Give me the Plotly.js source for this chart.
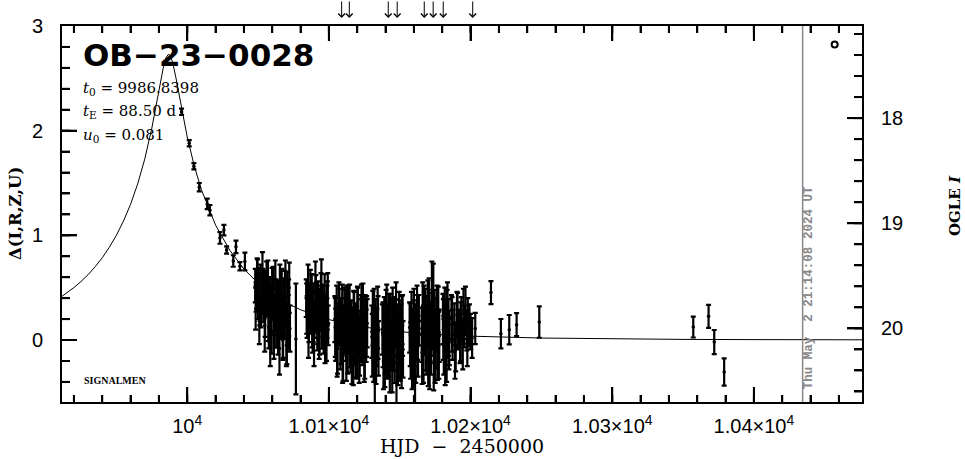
<!DOCTYPE html>
<html><head><meta charset="utf-8">
<script src="https://cdn.plot.ly/plotly-3.0.1.min.js"></script>
<style>html,body{margin:0;padding:0;background:#fff}#chart{width:965px;height:459px}</style>
</head><body><div id="chart"></div>
<script>
// ---------- data ----------
const obsHJD = [
  9996.0, 10001.4, 10004.7, 10008.5, 10014.1, 10016.0, 10023.1, 10025.9, 10027.8, 10032.5, 10034.4, 10037.2, 10040.7,
  10048.0, 10048.6, 10049.3, 10049.9, 10050.5, 10051.2, 10051.8, 10052.4, 10053.1, 10053.7, 10054.4, 10055.0, 10055.7,
  10056.3, 10057.0, 10057.6, 10058.3, 10058.9, 10059.6, 10060.2, 10060.9, 10061.5, 10062.2, 10062.8, 10063.5, 10064.1,
  10064.8, 10065.4, 10066.1, 10066.7, 10067.4, 10068.0, 10068.7, 10069.3, 10070.0, 10070.6, 10071.3, 10072.0, 10072.5,
  10076.7,
  10084.0, 10084.6, 10085.3, 10085.9, 10086.6, 10087.2, 10087.9, 10088.5, 10089.2, 10089.8, 10090.5, 10091.1, 10091.8,
  10092.4, 10093.1, 10093.7, 10094.4, 10095.0, 10095.7, 10096.3, 10097.0, 10097.6, 10098.3, 10098.9, 10099.5,
  10104.2, 10104.8, 10105.5, 10106.1, 10106.8, 10107.4, 10108.1, 10108.7, 10109.4, 10110.0, 10110.7, 10111.3, 10112.0,
  10112.6, 10113.3, 10113.9, 10114.6, 10115.2, 10115.9, 10116.5, 10117.2, 10117.8, 10118.5, 10119.1, 10119.8, 10120.4,
  10121.1, 10121.7, 10122.4, 10123.0, 10123.7, 10124.3, 10125.0, 10125.6, 10126.3, 10127.0,
  10130.3, 10131.0, 10131.6, 10132.4, 10133.0, 10133.7, 10134.4, 10135.0, 10137.8, 10138.5, 10139.1, 10139.8, 10140.4,
  10141.1, 10141.7, 10142.4, 10143.0, 10143.7, 10144.3, 10145.0, 10145.6, 10146.3, 10147.0, 10147.7, 10148.3, 10149.0,
  10149.6, 10150.3, 10150.9, 10151.6, 10152.3,
  10157.0, 10157.7, 10158.3, 10159.0, 10159.6, 10160.3, 10160.8, 10161.6, 10162.2, 10162.9, 10163.5, 10165.5, 10166.2,
  10166.8, 10167.5, 10168.1, 10168.8, 10169.4, 10170.1, 10170.7, 10171.4, 10172.0, 10172.7, 10173.3, 10174.0, 10174.6,
  10175.3, 10175.9, 10176.6, 10177.2, 10177.9, 10180.5, 10181.1, 10181.8, 10182.4, 10183.1, 10183.7, 10184.4, 10185.0,
  10186.5, 10187.3, 10188.6, 10189.5, 10190.4, 10191.2, 10192.6, 10193.5, 10194.5, 10195.5, 10196.4, 10197.3, 10198.0,
  10200.0, 10201.1, 10203.3,
  10214.4, 10221.4, 10227.3, 10232.5, 10248.5, 10357.2, 10368.0, 10372.0, 10379.0
];
const obsDelta = [
  2.18, 1.88, 1.66, 1.46, 1.30, 1.24, 0.975, 1.05, 0.86, 0.755, 0.89, 0.705, 0.75,
  0.52, 0.41, 0.60, 0.35, 0.48, 0.27, 0.55, 0.44, 0.62, 0.33, 0.50, 0.21, 0.46,
  0.38, 0.57, 0.12, 0.43, 0.30, 0.05, 0.36, 0.49, 0.24, 0.58, 0.15, 0.40, 0.06,
  0.31, 0.52, 0.19, 0.45, 0.00, 0.37, 0.26, 0.55, -0.05, 0.42, 0.17, 0.50, 0.11,
  0.01,
  0.40, 0.22, 0.51, 0.15, 0.35, 0.28, 0.45, 0.08, 0.31, 0.19, 0.55, 0.26, 0.12,
  0.38, 0.03, 0.29, 0.47, 0.16, 0.34, 0.09, 0.42, 0.23, 0.00, 0.33, 0.14,
  0.20, 0.05, 0.31, -0.08, 0.15, 0.26, -0.02, 0.18, 0.33, -0.15, 0.10, 0.22, 0.01,
  0.28, -0.10, 0.12, 0.30, -0.04, 0.17, 0.07, -0.20, 0.24, 0.02, 0.14, -0.12, 0.27,
  0.06, -0.06, 0.19, 0.32, -0.01, 0.11, -0.16, 0.21, 0.04, 0.16,
  0.08, 0.25, -0.12, -0.18, 0.15, 0.02, 0.30, -0.08, 0.10, -0.20, 0.18, -0.02, 0.26,
  -0.11, 0.06, 0.21, -0.25, 0.13, -0.05, 0.28, 0.00, -0.15, 0.16, -0.22, 0.09, -0.07,
  0.22, -0.13, 0.04, 0.19, -0.09,
  0.12, -0.10, 0.24, 0.02, -0.20, 0.15, -0.25, 0.08, 0.30, -0.06, 0.19, 0.05, 0.33,
  -0.14, 0.11, 0.26, -0.03, 0.18, -0.18, 0.35, 0.07, -0.08, 0.48, 0.14, -0.22, 0.23,
  0.01, 0.16, -0.11, 0.29, 0.04, 0.20, -0.05, 0.27, 0.09, -0.15, 0.31, 0.12, -0.02,
  0.22, 0.05, 0.15, -0.07, 0.24, 0.10, 0.03, 0.20, -0.04, 0.13, 0.28, 0.09, 0.18,
  0.08, 0.02, 0.11,
  0.453, 0.061, 0.099, 0.147, 0.172, 0.124, 0.226, -0.019, -0.306
];
const obsErr = [
  0.03, 0.03, 0.03, 0.04, 0.05, 0.05, 0.055, 0.05, 0.035, 0.055, 0.06, 0.04, 0.085,
  0.16, 0.14, 0.18, 0.15, 0.21, 0.13, 0.17, 0.19, 0.22, 0.16, 0.14, 0.18, 0.20,
  0.15, 0.19, 0.20, 0.17, 0.22, 0.18, 0.16, 0.21, 0.19, 0.18, 0.22, 0.17, 0.20,
  0.24, 0.20, 0.18, 0.23, 0.19, 0.22, 0.25, 0.21, 0.20, 0.23, 0.26, 0.24, 0.22,
  0.53,
  0.18, 0.20, 0.21, 0.17, 0.19, 0.22, 0.18, 0.20, 0.23, 0.17, 0.20, 0.19, 0.22,
  0.18, 0.21, 0.20, 0.17, 0.24, 0.19, 0.22, 0.21, 0.18, 0.20, 0.23, 0.19,
  0.22, 0.25, 0.21, 0.24, 0.20, 0.23, 0.26, 0.22, 0.20, 0.24, 0.23, 0.26, 0.21,
  0.24, 0.22, 0.25, 0.23, 0.27, 0.21, 0.24, 0.23, 0.22, 0.26, 0.21, 0.25, 0.23,
  0.22, 0.28, 0.24, 0.21, 0.23, 0.26, 0.24, 0.22, 0.25, 0.23,
  0.25, 0.22, 0.28, 0.44, 0.24, 0.27, 0.21, 0.26, 0.24, 0.27, 0.23, 0.30, 0.22,
  0.26, 0.28, 0.23, 0.25, 0.27, 0.24, 0.22, 0.29, 0.26, 0.23, 0.42, 0.25, 0.28,
  0.24, 0.26, 0.30, 0.23, 0.27,
  0.24, 0.27, 0.22, 0.28, 0.25, 0.23, 0.40, 0.26, 0.22, 0.29, 0.24, 0.26, 0.22,
  0.27, 0.25, 0.23, 0.30, 0.24, 0.26, 0.24, 0.27, 0.25, 0.27, 0.23, 0.26, 0.25,
  0.28, 0.24, 0.27, 0.22, 0.25, 0.24, 0.28, 0.23, 0.26, 0.25, 0.24, 0.27, 0.22,
  0.21, 0.24, 0.20, 0.23, 0.22, 0.19, 0.25, 0.21, 0.24, 0.20, 0.23, 0.19, 0.22,
  0.17, 0.19, 0.15,
  0.11, 0.14, 0.14, 0.11, 0.15, 0.10, 0.11, 0.115, 0.13
];
// second, overlapping set of points inside the dense seasons
const obs2HJD = [
  10048.3, 10049.6, 10050.9, 10052.1, 10053.4, 10054.7, 10056.0, 10057.3, 10058.6, 10059.9, 10061.2, 10062.5, 10063.8,
  10065.1, 10066.4, 10067.7, 10069.0, 10070.3, 10071.6,
  10084.3, 10085.6, 10086.9, 10088.2, 10089.5, 10090.8, 10092.1, 10093.4, 10094.7, 10096.0, 10097.3, 10098.6, 10099.2,
  10104.5, 10105.8, 10107.1, 10108.4, 10109.7, 10111.0, 10112.3, 10113.6, 10114.9, 10116.2, 10117.5, 10118.8, 10120.1,
  10121.4, 10122.7, 10124.0, 10125.3, 10126.6,
  10130.6, 10131.9, 10133.3, 10134.7, 10138.2, 10139.5, 10140.8, 10142.1, 10143.4, 10144.7, 10146.0, 10147.4, 10148.7,
  10150.0, 10151.3, 10152.0,
  10157.4, 10158.7, 10160.0, 10161.3, 10162.6, 10165.8, 10167.2, 10168.5, 10169.8, 10171.1, 10172.4, 10173.7, 10175.0,
  10176.3, 10177.6, 10180.8, 10182.1, 10183.4, 10184.7, 10186.9, 10189.0, 10190.8, 10193.0, 10195.0, 10197.7, 10199.2
];
const obs2Delta = [
  0.30, 0.58, 0.18, 0.36, 0.47, 0.14, 0.53, 0.25, -0.02, 0.44, 0.09, 0.34, 0.21,
  -0.08, 0.29, 0.13, 0.40, 0.05, 0.31,
  0.30, 0.05, 0.42, 0.20, -0.02, 0.36, 0.24, 0.11, 0.50, 0.18, 0.06, 0.27, 0.40,
  0.12, -0.05, 0.28, 0.08, -0.12, 0.20, -0.07, 0.24, 0.05, -0.14, 0.17, -0.03, 0.22,
  -0.10, 0.09, 0.26, -0.05, 0.13,
  -0.05, 0.20, -0.10, 0.12, 0.05, -0.15, 0.20, -0.04, 0.15, -0.18, 0.10, 0.25, -0.10,
  0.08, -0.15, 0.14,
  0.05, -0.15, 0.20, -0.08, 0.12, -0.12, 0.20, 0.02, 0.28, -0.15, 0.15, 0.40, -0.10,
  0.22, -0.05, 0.10, -0.12, 0.18, 0.00, 0.15, -0.10, 0.20, 0.08, 0.25, -0.02, 0.14
];
const obs2Err = [
  0.20, 0.19, 0.22, 0.24, 0.21, 0.25, 0.22, 0.26, 0.23, 0.25, 0.27, 0.24, 0.28,
  0.25, 0.27, 0.30, 0.26, 0.28, 0.27,
  0.24, 0.22, 0.25, 0.27, 0.23, 0.26, 0.28, 0.25, 0.27, 0.26, 0.28, 0.25, 0.24,
  0.28, 0.30, 0.27, 0.31, 0.29, 0.30, 0.32, 0.28, 0.31, 0.28, 0.30, 0.33, 0.29,
  0.31, 0.30, 0.28, 0.32, 0.29,
  0.30, 0.29, 0.32, 0.30, 0.31, 0.30, 0.33, 0.31, 0.29, 0.32, 0.31, 0.30, 0.33,
  0.30, 0.31, 0.29,
  0.30, 0.32, 0.29, 0.33, 0.31, 0.30, 0.32, 0.31, 0.29, 0.32, 0.30, 0.33, 0.31,
  0.30, 0.32, 0.29, 0.31, 0.30, 0.28, 0.26, 0.27, 0.25, 0.28, 0.24, 0.23, 0.20
];
// model light curve (Delta mag)
const modelHJD = [9911.6, 9915, 9920, 9925, 9930, 9935, 9940, 9945, 9950, 9955, 9960, 9965, 9970, 9975, 9978,
  9980, 9983, 9985, 9986.84, 9988.5, 9990, 9992, 9995, 10000, 10005, 10010, 10020, 10030, 10040, 10050, 10060,
  10070, 10080, 10100, 10125, 10150, 10175, 10200, 10250, 10300, 10350, 10400, 10476.3];
const modelDelta = [0.418, 0.449, 0.501, 0.559, 0.624, 0.700, 0.786, 0.886, 1.001, 1.137, 1.297, 1.491, 1.728, 2.024, 2.234,
  2.383, 2.595, 2.697, 2.732, 2.703, 2.635, 2.506, 2.284, 1.940, 1.661, 1.436, 1.098, 0.858, 0.679, 0.543, 0.437,
  0.354, 0.289, 0.195, 0.123, 0.080, 0.054, 0.037, 0.019, 0.010, 0.006, 0.004, 0.002];
const arrowHJD = [10109.0, 10114.4, 10141.9, 10148.2, 10167.3, 10173.6, 10180.7, 10201.5];
const circleHJD = [10457];
const circleMag = [17.30];
const nowHJD = 10434.4;
const nowText = 'Thu May \u00a02 21:14:08 2024 UT';
const xTickVals = [10000, 10100, 10200, 10300, 10400];
const xTickText = ['10<sup>4</sup>', '1.01×10<sup>4</sup>', '1.02×10<sup>4</sup>', '1.03×10<sup>4</sup>', '1.04×10<sup>4</sup>'];
const yTickVals = [0, 1, 2, 3];
const magTickVals = [18, 19, 20];
const eventName = 'OB\u221223\u22120028';
const paramLines = ['<i>t</i><sub>0</sub> = 9986.8398', '<i>t</i><sub>E</sub> = 88.50 d', '<i>u</i><sub>0</sub> = 0.081'];

// ---------- traces ----------
const errStyle = {type: 'data', visible: true, color: '#000', thickness: 2.2, width: 2.5};
const traces = [
  {x: modelHJD, y: modelDelta, type: 'scatter', mode: 'lines', line: {color: '#000', width: 1}, hoverinfo: 'skip'},
  {x: obs2HJD, y: obs2Delta, type: 'scatter', mode: 'markers', marker: {color: '#000', size: 3.5},
   error_y: Object.assign({array: obs2Err}, errStyle)},
  {x: obsHJD, y: obsDelta, type: 'scatter', mode: 'markers', marker: {color: '#000', size: 3.5},
   error_y: Object.assign({array: obsErr}, errStyle)},
  {x: circleHJD, y: circleMag, yaxis: 'y2', type: 'scatter', mode: 'markers',
   marker: {symbol: 'circle-open', size: 6, color: '#000', line: {width: 2, color: '#000'}}}
];

const tickFont = {family: 'Liberation Sans', size: 20, color: '#000'};
const minorX = {dtick: 20, tick0: 0, ticks: 'inside', ticklen: 7, tickwidth: 1.5, tickcolor: '#000', showgrid: false};
const minorY = {dtick: 0.2, tick0: 0, ticks: 'inside', ticklen: 8, tickwidth: 1.5, tickcolor: '#000', showgrid: false};

const annotations = [
  {text: eventName, xref: 'paper', yref: 'paper', x: 0.024, y: 0.9229, xanchor: 'left', yanchor: 'middle',
   showarrow: false, font: {family: 'DejaVu Sans', size: 31, color: '#000', weight: 'bold'}},
  {text: 'SIGNALMEN', xref: 'paper', yref: 'paper', x: 0.025, y: 0.0585, xanchor: 'left', yanchor: 'middle',
   showarrow: false, font: {family: 'Liberation Serif', size: 10, color: '#000', weight: 'bold'}},
  {text: nowText, xref: 'x', yref: 'paper', x: nowHJD, xshift: 6, y: 0.3045, xanchor: 'center', yanchor: 'middle',
   textangle: -90, showarrow: false, font: {family: 'Liberation Mono', size: 12.5, color: '#888', weight: 'bold'}},
  {text: 'Δ(I,R,Z,U)', xref: 'paper', yref: 'paper', x: -0.05875, y: 0.5, xanchor: 'center', yanchor: 'middle',
   textangle: -90, showarrow: false, font: {family: 'DejaVu Serif', size: 16.5, color: '#000', weight: 'bold'}},
  {text: 'OGLE <i>I</i>', xref: 'paper', yref: 'paper', x: 1.11625, y: 0.521, xanchor: 'center', yanchor: 'middle',
   textangle: -90, showarrow: false, font: {family: 'DejaVu Serif', size: 15, color: '#000', weight: 'bold'}},
  {text: 'HJD \u00a0\u2212\u00a0 2450000', xref: 'paper', yref: 'paper', x: 0.5, y: -0.117, xanchor: 'center', yanchor: 'middle',
   showarrow: false, font: {family: 'DejaVu Serif', size: 19, color: '#000'}}
];
const paramY = [0.8351, 0.7713, 0.7101];
paramLines.forEach((t, i) => annotations.push({text: t, xref: 'paper', yref: 'paper', x: 0.024, y: paramY[i],
  xanchor: 'left', yanchor: 'middle', showarrow: false, font: {family: 'DejaVu Serif', size: 15, color: '#000'}}));
arrowHJD.forEach(h => annotations.push({x: h, xref: 'x', y: 1.0213, yref: 'paper', text: '', showarrow: true,
  ax: 0, ay: -18, arrowhead: 4, arrowsize: 1.3, arrowwidth: 1, arrowcolor: '#000'}));

const layout = {
  width: 965, height: 459,
  margin: {l: 62, r: 103, t: 26, b: 57, pad: 0},
  paper_bgcolor: '#fff', plot_bgcolor: '#fff', showlegend: false,
  font: {family: 'Liberation Sans', color: '#000'},
  xaxis: {range: [9911.6, 10476.3], tickmode: 'array', tickvals: xTickVals, ticktext: xTickText,
    ticks: 'inside', ticklen: 15, tickwidth: 1.5, tickcolor: '#000', showline: true, linewidth: 2, linecolor: '#000',
    mirror: 'ticks', showgrid: false, zeroline: false, ticklabelstandoff: 5, tickfont: tickFont, minor: minorX},
  yaxis: {range: [-0.592, 3.0], tickmode: 'array', tickvals: yTickVals, ticks: 'inside', ticklen: 15, tickwidth: 1.5,
    tickcolor: '#000', showline: true, linewidth: 2, linecolor: '#000', mirror: false, showgrid: false, zeroline: false,
    ticklabelstandoff: 13, tickfont: tickFont, minor: minorY},
  yaxis2: {overlaying: 'y', side: 'right', anchor: 'x', range: [20.70, 17.124], tickmode: 'array', tickvals: magTickVals,
    ticks: 'inside', ticklen: 15, tickwidth: 1.5, tickcolor: '#000', showline: true, linewidth: 2, linecolor: '#000',
    showgrid: false, zeroline: false, ticklabelstandoff: 13, tickfont: tickFont, minor: minorY},
  shapes: [{type: 'line', xref: 'x', yref: 'paper', x0: nowHJD, x1: nowHJD, y0: 0, y1: 1,
    line: {color: '#888', width: 1.5}}],
  annotations: annotations
};

Plotly.newPlot('chart', traces, layout, {displayModeBar: false}).then(gd => {
  // bring the axis tick marks to the top of the drawing so nothing hides them
  const svg = gd.querySelector('svg.main-svg');
  if (!svg) return;
  const g = document.createElementNS('http://www.w3.org/2000/svg', 'g');
  g.setAttribute('class', 'ticks-on-top');
  gd.querySelectorAll('path.ticks').forEach(p => {
    const c = p.cloneNode(true);
    c.style.shapeRendering = 'auto';
    g.appendChild(c);
  });
  svg.appendChild(g);
});
</script></body></html>
